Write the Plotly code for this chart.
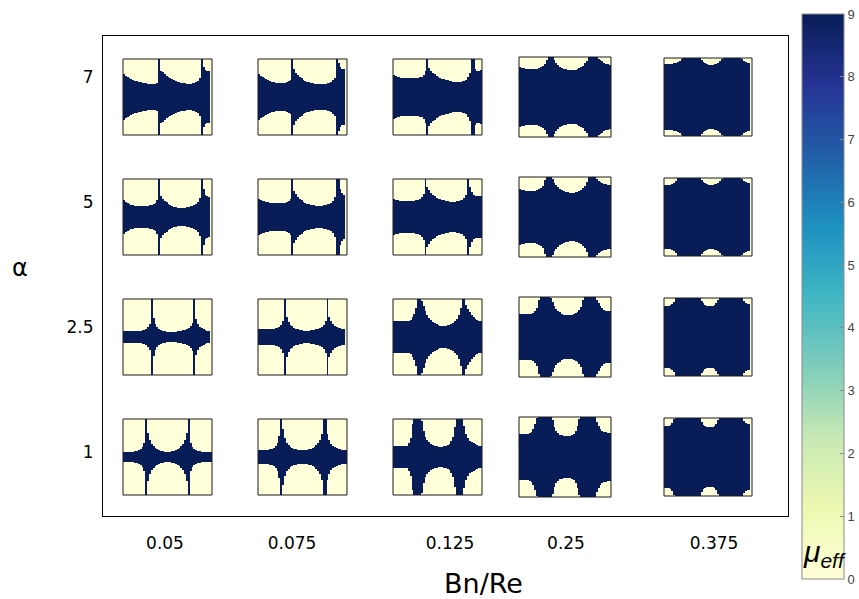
import plotly.graph_objects as go
from plotly.colors import sequential

# ---------------- data ----------------
bn_re_labels = ["0.05", "0.075", "0.125", "0.25", "0.375"]
alpha_labels = ["7", "5", "2.5", "1"]
mu_ticks = [0, 1, 2, 3, 4, 5, 6, 7, 8, 9]
mu_yielded = 0   # light (yielded) lobes
mu_plug = 9      # dark (unyielded) core

# depth of the yielded lobes measured from each wall (thumbnail pixel rows),
# 48 columns across each thumbnail, one list per Bn/Re value
depth_alpha7 = [
    [15.5, 17, 18.5, 19.5, 20.5, 21.5, 22, 22.5, 23, 23.5, 24, 24.5, 24.5, 25, 25, 25, 25, 25, 24.5, 0, 12, 13, 15, 17,
     18.5, 19.5, 20.5, 21.5, 22.5, 23, 23.5, 24, 24.5, 24.5, 25, 25, 25, 24.5, 24, 23.5, 22, 19, 0, 8, 11, 12, 12, 38],
    [15.5, 17, 18.5, 19.5, 20.5, 21.5, 22.5, 23, 23.5, 24, 24.5, 24.5, 24.5, 24.5, 24, 23.5, 22.5, 21, 0, 10, 14, 16, 18, 19.5,
     21, 22, 23, 23.5, 24, 24.5, 25, 25, 25.5, 25.5, 25.5, 25, 25, 24.5, 24, 23, 21.5, 19, 0, 4, 8, 10, 10, 38],
    [16.5, 17.5, 18, 18.5, 19, 19, 19.5, 19.5, 19.5, 19.5, 19.5, 19.5, 19, 19, 18.5, 18, 16, 12, 0, 9, 12, 14, 15.5, 17,
     18, 19, 20, 20.5, 21, 21.5, 22, 22.5, 23, 23, 23, 23, 23, 22.5, 22, 21, 18.5, 14, 0, 0, 10, 12, 12, 11],
    [10.5, 11, 11.5, 12, 12, 12.5, 12.5, 12.5, 12.5, 12, 11.5, 10.5, 9.5, 7, 3, 0, 0, 0, 3, 6, 8, 10, 11, 12,
     12.5, 13, 13.5, 13.5, 13.5, 13, 12.5, 11.5, 10.5, 9, 6.5, 4, 0, 0, 0, 0, 0, 2, 3, 4.5, 6, 7, 7.5, 8],
    [6.5, 6.5, 6.5, 6.5, 6, 5.5, 5, 4, 3, 1.5, 0, 0, 0, 0, 0, 0, 0, 0, 0, 0, 2.5, 4.5, 5.5, 6.5,
     7, 7, 7, 6.5, 6, 5, 3.5, 1.5, 0, 0, 0, 0, 0, 0, 0, 0, 0, 0, 1.5, 3.5, 4.5, 5, 5, 39],
]
depth_alpha5 = [
    [21.5, 23, 24.5, 25.5, 26, 26.5, 27, 27, 27.5, 27.5, 27.5, 27.5, 27, 27, 26.5, 26, 25, 24, 21, 0, 17, 20, 22, 23.5,
     25, 26, 27, 28, 28.5, 29, 29, 29, 29, 29, 28.5, 28, 27.5, 27, 26, 25, 23, 19, 0, 10, 16, 17.5, 18, 38],
    [20.5, 21.5, 22, 22.5, 23, 23.5, 24, 24, 24, 24.5, 24.5, 24.5, 24.5, 24, 24, 23.5, 22.5, 20.5, 0, 12, 15.5, 18, 20, 21.5,
     23, 24, 25, 25.5, 26, 26.5, 26.5, 27, 27, 27, 27, 26.5, 26, 25.5, 25, 24, 22, 18.5, 0, 0, 10, 14, 16, 38],
    [20.5, 21, 21.5, 22, 22, 22.5, 22.5, 22.5, 22.5, 22.5, 22, 22, 21.5, 21, 20, 18.5, 15, 0, 8, 11, 14, 16, 17.5, 19,
     20, 20.5, 21, 21.5, 22, 22.5, 23, 23, 23, 23, 22.5, 22, 21.5, 21, 19.5, 16, 0, 8, 13, 16, 17, 17.5, 17.5, 17.5],
    [12.5, 13, 13.5, 14, 14, 14.5, 14.5, 14.5, 14, 13.5, 12.5, 11.5, 9, 3, 0, 0, 0, 2.5, 6, 8.5, 10.5, 12, 13, 14,
     15, 15.5, 16, 16, 16, 15.5, 15, 14, 13, 11.5, 9, 5, 0, 0, 0, 0, 2.5, 4, 5, 6, 7, 7.5, 8, 8],
    [7, 7, 7, 7, 6.5, 5.5, 3, 0, 0, 0, 0, 0, 0, 0, 0, 0, 0, 0, 0, 0, 2, 4.5, 5.5, 6.5,
     7, 7, 7, 6.5, 6, 5, 3, 1, 0, 0, 0, 0, 0, 0, 0, 0, 0, 0, 1.5, 3.5, 4.5, 5, 5, 39],
]
depth_alpha25 = [
    [32.5, 32.5, 32.5, 32.5, 32.5, 32.5, 32.5, 32.5, 32.5, 32, 31.5, 31, 30, 28.5, 25, 0, 19, 25, 28, 30, 31, 32, 32.5, 33,
     33, 33, 33, 33, 33, 32.5, 32.5, 32, 31.5, 31, 30, 29, 27, 24, 0, 20, 25, 28, 29.5, 30.5, 31.5, 32, 32.5, 38],
    [30, 30, 30.5, 30.5, 30.5, 30.5, 30.5, 30.5, 30, 29.5, 29, 28, 26, 22, 0, 18, 23, 26, 27.5, 29, 30, 30.5, 31, 31.5,
     32, 32, 32, 32, 31.5, 31, 31, 30.5, 30, 29, 28, 26, 22, 0, 18, 22, 25, 27, 28, 29, 29.5, 30, 30.5, 38],
    [22.5, 22.5, 22.5, 22.5, 22.5, 22.5, 22.5, 22.5, 22, 21, 18.5, 15, 9, 0, 0, 2, 7, 12, 16, 19, 21.5, 23, 24.5, 25.5,
     26.5, 27, 27.5, 27.5, 27, 26.5, 26, 25, 24, 22.5, 20, 16, 9, 0, 0, 6, 10, 13.5, 16.5, 18.5, 20, 21.5, 22, 22.5],
    [17.5, 17.5, 17.5, 17.5, 17.5, 17.5, 17, 16, 14.5, 11, 3, 0, 0, 0, 0, 0, 1, 5, 9, 12, 14, 15.5, 17, 18,
     18.5, 18.5, 18.5, 18, 17.5, 16.5, 15, 13.5, 10, 3, 0, 0, 0, 0, 0, 0, 3, 6.5, 9.5, 11.5, 13, 14, 14.5, 14.5],
    [8, 8, 8, 7.5, 6.5, 4, 0, 0, 0, 0, 0, 0, 0, 0, 0, 0, 0, 0, 0, 0, 3, 5.5, 7, 8,
     8.5, 8.5, 8, 7, 5.5, 2, 0, 0, 0, 0, 0, 0, 0, 0, 0, 0, 0, 0, 0, 3, 5, 6, 6.5, 39],
]
depth_alpha1 = [
    [33.5, 33.5, 33.5, 33.5, 33, 33, 32.5, 32, 31.5, 30.5, 28.5, 24.5, 0, 14, 21, 25, 27.5, 29.5, 30.5, 31.5, 32, 32.5, 33, 33.5,
     33.5, 33, 32.5, 32, 31.5, 30.5, 29.5, 27.5, 25, 21, 14, 0, 24.5, 28.5, 30.5, 31.5, 32, 32.5, 33, 33, 33.5, 33.5, 33.5, 33.5],
    [31.5, 31.5, 31.5, 31.5, 31, 31, 30.5, 30, 29, 27, 24, 17, 0, 10, 19, 24.5, 26.5, 28, 29, 30, 30.5, 31, 31.5, 31.5,
     31.5, 31.5, 31, 30.5, 30, 29, 28, 26.5, 24.5, 21, 15, 0, 0, 15, 21, 25.5, 27.5, 28.5, 29.5, 30, 30.5, 31, 31.5, 31.5],
    [27.5, 27.5, 27.5, 27.5, 27.5, 27.5, 27, 27, 24, 19, 5, 0, 0, 0, 0, 2, 12, 18.5, 21.5, 23.5, 25, 26, 27, 27.5,
     28, 28, 28, 27.5, 27, 26.5, 25, 22.5, 18, 8, 0, 0, 0, 0, 7, 15, 19.5, 22, 23.5, 24.5, 25.5, 26.5, 27, 27],
    [17.5, 17.5, 17.5, 17, 17, 16.5, 15, 12, 7, 1, 0, 0, 0, 0, 0, 0, 0, 3, 10, 14, 16.5, 18, 18.5, 19,
     19.5, 19.5, 19, 18.5, 17, 14, 9, 2, 0, 0, 0, 0, 0, 0, 0, 0, 5, 9, 12.5, 14, 15, 15.5, 16, 16],
    [8, 8, 8, 7, 5.5, 1, 0, 0, 0, 0, 0, 0, 0, 0, 0, 0, 0, 0, 0, 0, 4, 7, 8.5, 9.5,
     9.5, 9.5, 9, 8, 6, 2.5, 0, 0, 0, 0, 0, 0, 0, 0, 0, 0, 0, 0, 0, 3, 5, 6, 6.5, 39],
]

# ---------------- layout (pixel-based axis units) ----------------
W_FIG, H_FIG = 859, 599
X_L, X_R, Y_T, Y_B = 103, 788, 36, 516
col_x0 = [123, 258, 393, 519, 664]
col_w = [89, 89, 89, 92, 88]
col_h = [76, 76, 76, 80, 78]
col_dy = [0, 0, 0, -2, -1]
row_top = [59, 179, 299, 419]
xtick_pos = [165, 292, 450, 566, 714]
ytick_pos = [77, 202, 327, 452]

font_main = "DejaVu Sans"
fig = go.Figure()

depth_rows = [depth_alpha7, depth_alpha5, depth_alpha25, depth_alpha1]
for i, row in enumerate(depth_rows):
    for j, d in enumerate(row):
        n = len(d)
        H, W = col_h[j], col_w[j]
        x0 = col_x0[j]
        y0 = row_top[i] + col_dy[j]
        xs = [x0 + (c + 0.5) * W / n for c in range(n)]
        ys = [y0 + r + 0.5 for r in range(H)]
        z = [[mu_yielded if (r + 0.5 < d[c] or H - r - 0.5 < d[c]) else mu_plug
              for c in range(n)] for r in range(H)]
        fig.add_trace(go.Heatmap(x=xs, y=ys, z=z, coloraxis="coloraxis",
                                 hoverinfo="skip", showscale=False))
        fig.add_shape(type="rect", xref="x", yref="y", x0=x0, x1=x0 + W,
                      y0=y0, y1=y0 + H, line=dict(color="#1a1a1a", width=1))

px = lambda x: (x - X_L) / (X_R - X_L)
py = lambda y: (Y_B - y) / (Y_B - Y_T)

fig.update_layout(
    width=W_FIG, height=H_FIG,
    margin=dict(l=X_L, r=W_FIG - X_R, t=Y_T, b=H_FIG - Y_B, pad=0,
                autoexpand=False),
    paper_bgcolor="white", plot_bgcolor="white",
    showlegend=False,
    font=dict(family=font_main, color="black"),
    coloraxis=dict(
        colorscale=sequential.YlGnBu, cmin=0, cmax=9,
        colorbar=dict(
            x=px(802), xanchor="left", xpad=0, ypad=0,
            y=py(296.5), yanchor="middle",
            thickness=42, lenmode="pixels", len=565,
            tickvals=mu_ticks, ticktext=[str(t) for t in mu_ticks],
            ticks="inside", ticklen=4, tickcolor="#8a8a8a",
            tickfont=dict(size=13, color="#444", family="Liberation Sans"),
            outlinecolor="#8a8a8a", outlinewidth=1,
        ),
    ),
    xaxis=dict(
        range=[X_L, X_R], showgrid=False, zeroline=False,
        showline=True, mirror=True, linecolor="black", linewidth=1,
        tickvals=xtick_pos, ticktext=bn_re_labels,
        ticks="outside", ticklen=12, tickcolor="rgba(0,0,0,0)",
        tickfont=dict(size=17, family=font_main, color="black"),
    ),
    yaxis=dict(
        range=[Y_B, Y_T], showgrid=False, zeroline=False,
        showline=True, mirror=True, linecolor="black", linewidth=1,
        tickvals=ytick_pos, ticktext=alpha_labels,
        ticks="outside", ticklen=5, tickcolor="rgba(0,0,0,0)",
        tickfont=dict(size=17, family=font_main, color="black"),
    ),
    yaxis2=dict(
        overlaying="y", side="right", range=[Y_B, Y_T],
        showgrid=False, zeroline=False, showline=False,
        tickvals=ytick_pos, showticklabels=False,
        ticks="inside", ticklen=9, tickcolor="black", tickwidth=1,
    ),
    annotations=[
        dict(text="α", xref="paper", yref="paper", x=px(20), y=py(268),
             xanchor="center", yanchor="middle", showarrow=False,
             font=dict(size=24, family=font_main, color="black")),
        dict(text="Bn/Re", xref="paper", yref="paper", x=px(483), y=py(583),
             xanchor="center", yanchor="middle", showarrow=False,
             font=dict(size=27, family=font_main, color="black")),
        dict(text="<i>μ<sub>eff</sub></i>", xref="paper", yref="paper",
             x=px(801), y=py(553), xanchor="left", yanchor="middle",
             showarrow=False,
             font=dict(size=30, family="Liberation Sans", color="black")),
    ],
)

# the browser's default 8px body margin would offset the figure inside the
# 859x599 window; remove it so the figure fills the page exactly
fig.write_html("out.html",
               config={"displayModeBar": False},
               post_script="document.body.style.margin='0';"
                           "document.body.style.overflow='hidden';")
